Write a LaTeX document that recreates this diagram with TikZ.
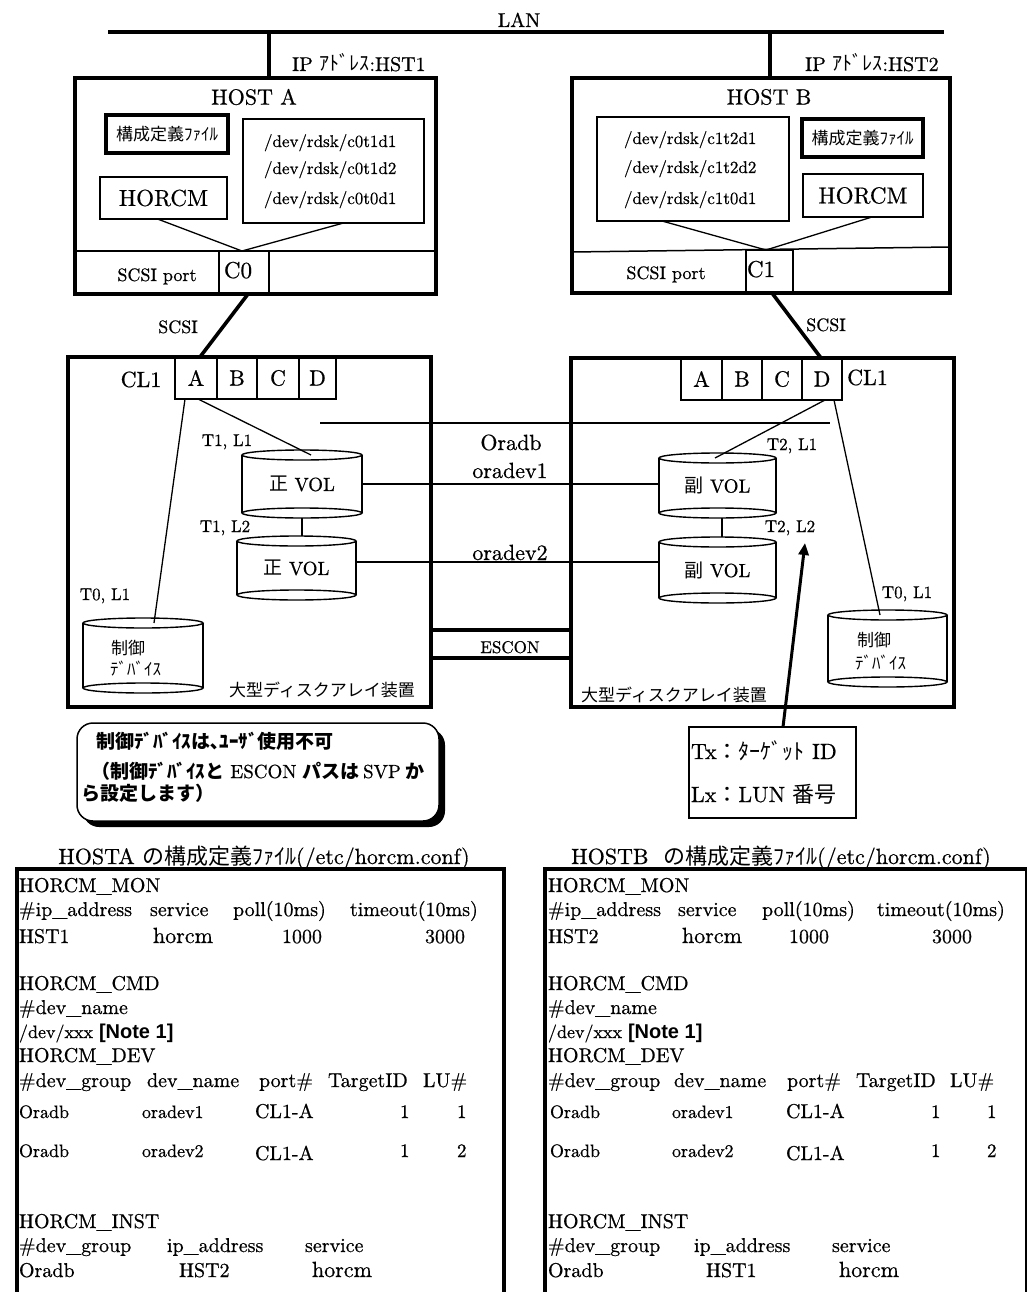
\documentclass[tikz,border=0pt]{standalone}
\usepackage{fontspec}
\setmainfont{lmroman10-regular.otf}[FakeBold=0.6]
\newfontfamily\jpf{Noto Sans CJK JP}
\newfontfamily\arf{Liberation Sans}
\usetikzlibrary{calc,arrows.meta,shadows}
\newcommand\fsz[1]{\fontsize{#1}{#1}\selectfont}
\newcommand\cylnode[6]{%
  \node[cylb, minimum width=#4pt, minimum height=#5pt] (#1) at (#2,#3) {#6};
  \draw[cylline] (#1.north west) -- (#1.south west) (#1.north east) -- (#1.south east);
  \draw[cylline] (#1.north) ellipse [x radius=#4pt/2, y radius=5pt];
  \draw[cylline] (#1.south) ellipse [x radius=#4pt/2, y radius=5pt];
}
\newcommand\ct[5]{\node[cfgt, font=\fsz{#4}] (#1) at (#2,#3) {#5};}
\begin{document}
\begin{tikzpicture}[x=1pt,y=-1pt,
  lbl/.style={inner sep=0pt, outer sep=0pt},
  thinln/.style={line width=1.3pt},
  heavy/.style={line width=3.6pt},
  frame/.style={draw, line width=4pt, inner sep=0pt, outer sep=0pt},
  inbox/.style={draw, line width=1.5pt, inner sep=0pt, outer sep=0pt},
  cfgbox/.style={draw, line width=3.5pt, inner sep=0pt, outer sep=0pt},
  cell/.style={draw, line width=1.4pt, inner sep=0pt, outer sep=0pt, minimum height=42pt, font=\fsz{22}},
  cylb/.style={inner sep=0pt, outer sep=0pt, font=\fsz{19}},
  cylline/.style={line width=1.4pt},
  cfgt/.style={anchor=base west, inner sep=0pt, outer sep=0pt},
]
\useasboundingbox[fill=white] (0,0) rectangle (1027,1292);

% ---------- LAN ----------
\node[lbl, anchor=base, font=\fsz{20}] (lan) at (519,27) {LAN};
\coordinate (lanL) at (108,32);
\coordinate (lanR) at (944,32);
\draw[heavy] (lanL) -- (lanR);

% ---------- HOST A ----------
\node[frame, minimum width=361pt, minimum height=216pt] (hostA) at (255.5,186) {};
\coordinate (tapA) at (269,32);
\draw[heavy] (tapA) -- (tapA |- hostA.north);
\node[lbl, anchor=base west, font=\fsz{20}] (ipA) at (292,71) {IP {\jpf ｱﾄﾞﾚｽ}:HST1};
\node[lbl, font=\fsz{22}] (hostAt) at (254,97) {HOST A};
\node[cfgbox, minimum width=122pt, minimum height=38pt, font=\jpf\fsz{17}] (cfA) at (167,134) {構成定義ﾌｧｲﾙ};
\node[inbox, minimum width=127pt, minimum height=42pt, font=\fsz{23}] (horcmA) at (163.5,198) {HORCM};
\node[inbox, minimum width=181pt, minimum height=104pt] (devA) at (333.5,171) {};
\node[lbl, anchor=base west, font=\fsz{17}] (dA1) at (264,147) {/dev/rdsk/c0t1d1};
\node[lbl, anchor=base west, font=\fsz{17}] (dA2) at (264,174) {/dev/rdsk/c0t1d2};
\node[lbl, anchor=base west, font=\fsz{17}] (dA3) at (264,204) {/dev/rdsk/c0t0d1};
\coordinate (divA) at (75,251);
\draw[line width=1.5pt] (divA) -- (divA -| hostA.east);
\node[inbox, minimum width=50pt, minimum height=43pt] (c0) at (244,272.5) {};
\node[lbl, anchor=base, font=\fsz{23}] (c0t) at (238,278) {C0};
\node[lbl, anchor=base, font=\fsz{18}] (spA) at (157,281) {SCSI port};
\draw[thinln] ([xshift=-6pt]horcmA.south) -- ([xshift=-2pt]c0.north);
\draw[thinln] ([xshift=10pt]devA.south) -- ([xshift=-2pt]c0.north);

% ---------- HOST B ----------
\node[frame, minimum width=378pt, minimum height=215pt] (hostB) at (761,185.5) {};
\coordinate (tapB) at (770,32);
\draw[heavy] (tapB) -- (tapB |- hostB.north);
\node[lbl, anchor=base west, font=\fsz{20}] (ipB) at (805,71) {IP {\jpf ｱﾄﾞﾚｽ}:HST2};
\node[lbl, font=\fsz{22}] (hostBt) at (769,97) {HOST B};
\node[inbox, minimum width=192pt, minimum height=104pt] (devB) at (693,169) {};
\node[lbl, anchor=base west, font=\fsz{17}] (dB1) at (624,144) {/dev/rdsk/c1t2d1};
\node[lbl, anchor=base west, font=\fsz{17}] (dB2) at (624,173) {/dev/rdsk/c1t2d2};
\node[lbl, anchor=base west, font=\fsz{17}] (dB3) at (624,204) {/dev/rdsk/c1t0d1};
\node[cfgbox, minimum width=121pt, minimum height=38pt, font=\jpf\fsz{17}] (cfB) at (862.5,138) {構成定義ﾌｧｲﾙ};
\node[inbox, minimum width=120pt, minimum height=43pt, font=\fsz{23}] (horcmB) at (863,195.5) {HORCM};
\coordinate (divB) at (572,252);
\coordinate (divB2) at (950,247);
\draw[line width=1.5pt] (divB) -- (divB2);
\node[inbox, minimum width=47pt, minimum height=43pt] (c1) at (769.5,271.5) {};
\node[lbl, anchor=base, font=\fsz{23}] (c1t) at (761,277) {C1};
\node[lbl, anchor=base, font=\fsz{18}] (spB) at (666,279) {SCSI port};
\draw[thinln] ([xshift=-31pt]devB.south) -- ([xshift=-3.5pt]c1.north);
\draw[thinln] ([xshift=9pt]horcmB.south) -- ([xshift=-3.5pt]c1.north);

% ---------- ARRAY A ----------
\node[frame, minimum width=363pt, minimum height=350pt] (arrA) at (249.5,532) {};
\node[cell, minimum width=42pt] (pAa) at (196,378) {A};
\node[cell, minimum width=40pt] (pAb) at (237,378) {B};
\node[cell, minimum width=42pt] (pAc) at (278,378) {C};
\node[cell, minimum width=37pt] (pAd) at (317.5,378) {D};
\node[lbl, anchor=base, font=\fsz{22}] (cl1A) at (141,387) {CL1};
\node[lbl, anchor=base, font=\fsz{18}] (scsiA) at (178,333) {SCSI};
\cylnode{pv1}{302}{484}{120}{58}{{\jpf 正} VOL}
\cylnode{pv2}{296.5}{568}{119}{54}{{\jpf 正} VOL}
\cylnode{ctlA}{143}{655.5}{120}{65}{}
\node[lbl, anchor=base west, font=\jpf\fsz{17}] (ctlA1) at (111,654) {制御};
\node[lbl, anchor=base west, font=\jpf\fsz{17}] (ctlA2) at (110,675) {ﾃﾞﾊﾞｲｽ};
\node[lbl, anchor=base, font=\fsz{17}] (t11) at (227,446) {T1, L1};
\node[lbl, anchor=base, font=\fsz{17}] (t12) at (225,532) {T1, L2};
\node[lbl, anchor=base, font=\fsz{17}] (t01A) at (105,600) {T0, L1};
\node[lbl, font=\jpf\fsz{17}] (bigA) at (322,690) {大型ディスクアレイ装置};
\draw[heavy] ([xshift=-7.5pt]hostA.south) -- ([xshift=4pt]pAa.north);
\draw[thinln] ([xshift=2pt]pAa.south) -- ([xshift=9pt]pv1.north);
\draw[thinln] ([xshift=-11pt]pAa.south) -- ([xshift=11pt]ctlA.north);
\draw[thinln] ($(pv1.south)+(0,5)$) -- ($(pv1.south |- pv2.north)+(0,-5)$);

% ---------- ARRAY B ----------
\node[frame, minimum width=383pt, minimum height=349pt] (arrB) at (762.5,532.5) {};
\node[cell, minimum width=41pt] (pBa) at (701.5,379) {A};
\node[cell, minimum width=40pt] (pBb) at (742,379) {B};
\node[cell, minimum width=40pt] (pBc) at (782,379) {C};
\node[cell, minimum width=40pt] (pBd) at (822,379) {D};
\node[lbl, anchor=base, font=\fsz{22}] (cl1B) at (867.5,385) {CL1};
\node[lbl, anchor=base, font=\fsz{18}] (scsiB) at (826,331) {SCSI};
\cylnode{sv1}{717.5}{485.5}{117}{55}{{\jpf 副} VOL}
\cylnode{sv2}{717.5}{570}{117}{56}{{\jpf 副} VOL}
\cylnode{ctlB}{887.5}{648.5}{119}{67}{}
\node[lbl, anchor=base west, font=\jpf\fsz{17}] (ctlB1) at (857,646) {制御};
\node[lbl, anchor=base west, font=\jpf\fsz{17}] (ctlB2) at (855,669) {ﾃﾞﾊﾞｲｽ};
\node[lbl, anchor=base, font=\fsz{17}] (t21) at (792,450) {T2, L1};
\node[lbl, anchor=base, font=\fsz{17}] (t22) at (790,532) {T2, L2};
\node[lbl, anchor=base, font=\fsz{17}] (t01B) at (907,598) {T0, L1};
\node[lbl, font=\jpf\fsz{17}] (bigB) at (674,695) {大型ディスクアレイ装置};
\draw[heavy] ([xshift=11pt]hostB.south) -- ([xshift=-1pt]pBd.north);
\draw[thinln] ([xshift=3pt]pBd.south) -- ([xshift=-2.5pt]sv1.north);
\draw[thinln] ([xshift=12pt]pBd.south) -- ([xshift=-7.5pt]ctlB.north);
\draw[thinln] ($(sv1.south)+(4.5,5)$) -- ($(sv1.south |- sv2.north)+(4.5,-5)$);

% ---------- pairs ----------
\coordinate (grpL) at (320,423);
\coordinate (grpR) at (830,423);
\draw[line width=1.6pt] (grpL) -- (grpR);
\draw[thinln] (pv1.east) -- (pv1.east -| sv1.west);
\coordinate (o2s) at ($(pv2.east)+(0,-6)$);
\draw[thinln] (o2s) -- (o2s -| sv2.west);
\node[lbl, anchor=base, font=\fsz{22}] (oradb) at (511,450) {Oradb};
\node[lbl, anchor=base, font=\fsz{22}] (od1) at (510,478) {oradev1};
\node[lbl, anchor=base, font=\fsz{22}] (od2) at (510,560) {oradev2};
\coordinate (e1) at (431,630);
\coordinate (e2) at (431,658);
\draw[heavy] (e1) -- (e1 -| arrB.west);
\draw[heavy] (e2) -- (e2 -| arrB.west);
\node[lbl, anchor=base, font=\fsz{17}] (escon) at (510,653) {ESCON};

% ---------- note ----------
\node[draw, line width=1.5pt, rounded corners=16pt, fill=white, minimum width=362pt, minimum height=98pt,
  drop shadow={shadow xshift=6pt, shadow yshift=-6pt, fill=black, opacity=1}] (note) at (258,772) {};
\node[lbl, anchor=base west, font=\jpf\bfseries\fsz{19}] (n1) at (96,748) {制御ﾃﾞﾊﾞｲｽは､ﾕｰｻﾞ使用不可};
\node[lbl, anchor=base west, font=\fsz{19}] (n2) at (91,778) {{\jpf\bfseries （制御ﾃﾞﾊﾞｲｽと} ESCON {\jpf\bfseries パスは}\,SVP\hspace{5pt}{\jpf\bfseries か}};
\node[lbl, anchor=base west, font=\jpf\bfseries\fsz{19}] (n3) at (81,800) {ら設定します）};

% ---------- Tx box ----------
\node[inbox, minimum width=167pt, minimum height=91pt] (tx) at (772.5,772.5) {};
\node[lbl, anchor=base west, font=\fsz{22}] (tx1) at (691,759) {Tx{\jpf ：ﾀｰｹﾞｯﾄ} ID};
\node[lbl, anchor=base west, font=\fsz{22}] (tx2) at (691,802) {Lx{\jpf ：}LUN {\jpf 番号}};
\coordinate (arrtip) at (805,543);
\draw[line width=3pt, -{Triangle[length=12pt,width=10pt]}] ([xshift=10.5pt]tx.north) -- (arrtip);

% ---------- config files ----------
\node[lbl, anchor=base, font=\fsz{22}] (hdA) at (264,864) {HOSTA {\jpf の構成定義ﾌｧｲﾙ}(/etc/horcm.conf)};
\node[lbl, anchor=base, font=\fsz{22}] (hdB) at (781,864) {HOSTB\ \ {\jpf の構成定義ﾌｧｲﾙ}(/etc/horcm.conf)};
\node[draw, line width=3.5pt, inner sep=0pt, minimum width=487pt, minimum height=440pt, anchor=north west] (cfgA) at (15,867) {};
\node[draw, line width=3.5pt, inner sep=0pt, minimum width=482pt, minimum height=440pt, anchor=north west] (cfgB) at (543,867) {};

% left file
\ct{aMon}{19}{892}{20}{HORCM\_MON}
\ct{aH1}{19}{916}{20}{\#ip\_address}
\ct{aH2}{150}{916}{20}{service}
\ct{aH3}{233}{916}{20}{poll(10ms)}
\ct{aH4}{350}{916}{20}{timeout(10ms)}
\ct{aM1}{19}{943}{20}{HST1}
\ct{aM2}{153}{943}{22}{horcm}
\ct{aM3}{282}{943}{20}{1000}
\ct{aM4}{425}{943}{20}{3000}
\ct{aCmd}{19}{990}{20}{HORCM\_CMD}
\ct{aDn}{19}{1014}{20}{\#dev\_name}
\ct{aXx}{19}{1038}{18}{/dev/xxx {\arf\bfseries\fsz{20}[Note 1]}}
\ct{aDev}{19}{1062}{20}{HORCM\_DEV}
\ct{aG1}{19}{1087}{20}{\#dev\_group}
\ct{aG2}{147}{1087}{20}{dev\_name}
\ct{aG3}{259}{1087}{20}{port\#}
\ct{aG4}{328}{1087}{20}{TargetID}
\ct{aG5}{423}{1087}{20}{LU\#}
\ct{aR1a}{19}{1118}{18}{Oradb}
\ct{aR1b}{142}{1118}{18}{oradev1}
\ct{aR1c}{255}{1118}{20}{CL1-A}
\ct{aR1d}{400}{1118}{19}{1}
\ct{aR1e}{457}{1118}{19}{1}
\ct{aR2a}{19}{1157}{18}{Oradb}
\ct{aR2b}{142}{1157}{18}{oradev2}
\ct{aR2c}{255}{1160}{20}{CL1-A}
\ct{aR2d}{400}{1157}{19}{1}
\ct{aR2e}{457}{1157}{19}{2}
\ct{aInst}{19}{1228}{20}{HORCM\_INST}
\ct{aI1}{19}{1252}{20}{\#dev\_group}
\ct{aI2}{167}{1252}{20}{ip\_address}
\ct{aI3}{305}{1252}{20}{service}
\ct{aJ1}{19}{1277}{20}{Oradb}
\ct{aJ2}{179}{1277}{20}{HST2}
\ct{aJ3}{312}{1277}{22}{horcm}

% right file
\ct{bMon}{548}{892}{20}{HORCM\_MON}
\ct{bH1}{548}{916}{20}{\#ip\_address}
\ct{bH2}{678}{916}{20}{service}
\ct{bH3}{762}{916}{20}{poll(10ms)}
\ct{bH4}{877}{916}{20}{timeout(10ms)}
\ct{bM1}{548}{943}{20}{HST2}
\ct{bM2}{682}{943}{22}{horcm}
\ct{bM3}{789}{943}{20}{1000}
\ct{bM4}{932}{943}{20}{3000}
\ct{bCmd}{548}{990}{20}{HORCM\_CMD}
\ct{bDn}{548}{1014}{20}{\#dev\_name}
\ct{bXx}{548}{1038}{18}{/dev/xxx {\arf\bfseries\fsz{20}[Note 1]}}
\ct{bDev}{548}{1062}{20}{HORCM\_DEV}
\ct{bG1}{548}{1087}{20}{\#dev\_group}
\ct{bG2}{674}{1087}{20}{dev\_name}
\ct{bG3}{787}{1087}{20}{port\#}
\ct{bG4}{856}{1087}{20}{TargetID}
\ct{bG5}{950}{1087}{20}{LU\#}
\ct{bR1a}{550}{1118}{18}{Oradb}
\ct{bR1b}{672}{1118}{18}{oradev1}
\ct{bR1c}{786}{1118}{20}{CL1-A}
\ct{bR1d}{931}{1118}{19}{1}
\ct{bR1e}{987}{1118}{19}{1}
\ct{bR2a}{550}{1157}{18}{Oradb}
\ct{bR2b}{672}{1157}{18}{oradev2}
\ct{bR2c}{786}{1160}{20}{CL1-A}
\ct{bR2d}{931}{1157}{19}{1}
\ct{bR2e}{987}{1157}{19}{2}
\ct{bInst}{548}{1228}{20}{HORCM\_INST}
\ct{bI1}{548}{1252}{20}{\#dev\_group}
\ct{bI2}{694}{1252}{20}{ip\_address}
\ct{bI3}{832}{1252}{20}{service}
\ct{bJ1}{548}{1277}{20}{Oradb}
\ct{bJ2}{706}{1277}{20}{HST1}
\ct{bJ3}{839}{1277}{22}{horcm}
\end{tikzpicture}
\end{document}
